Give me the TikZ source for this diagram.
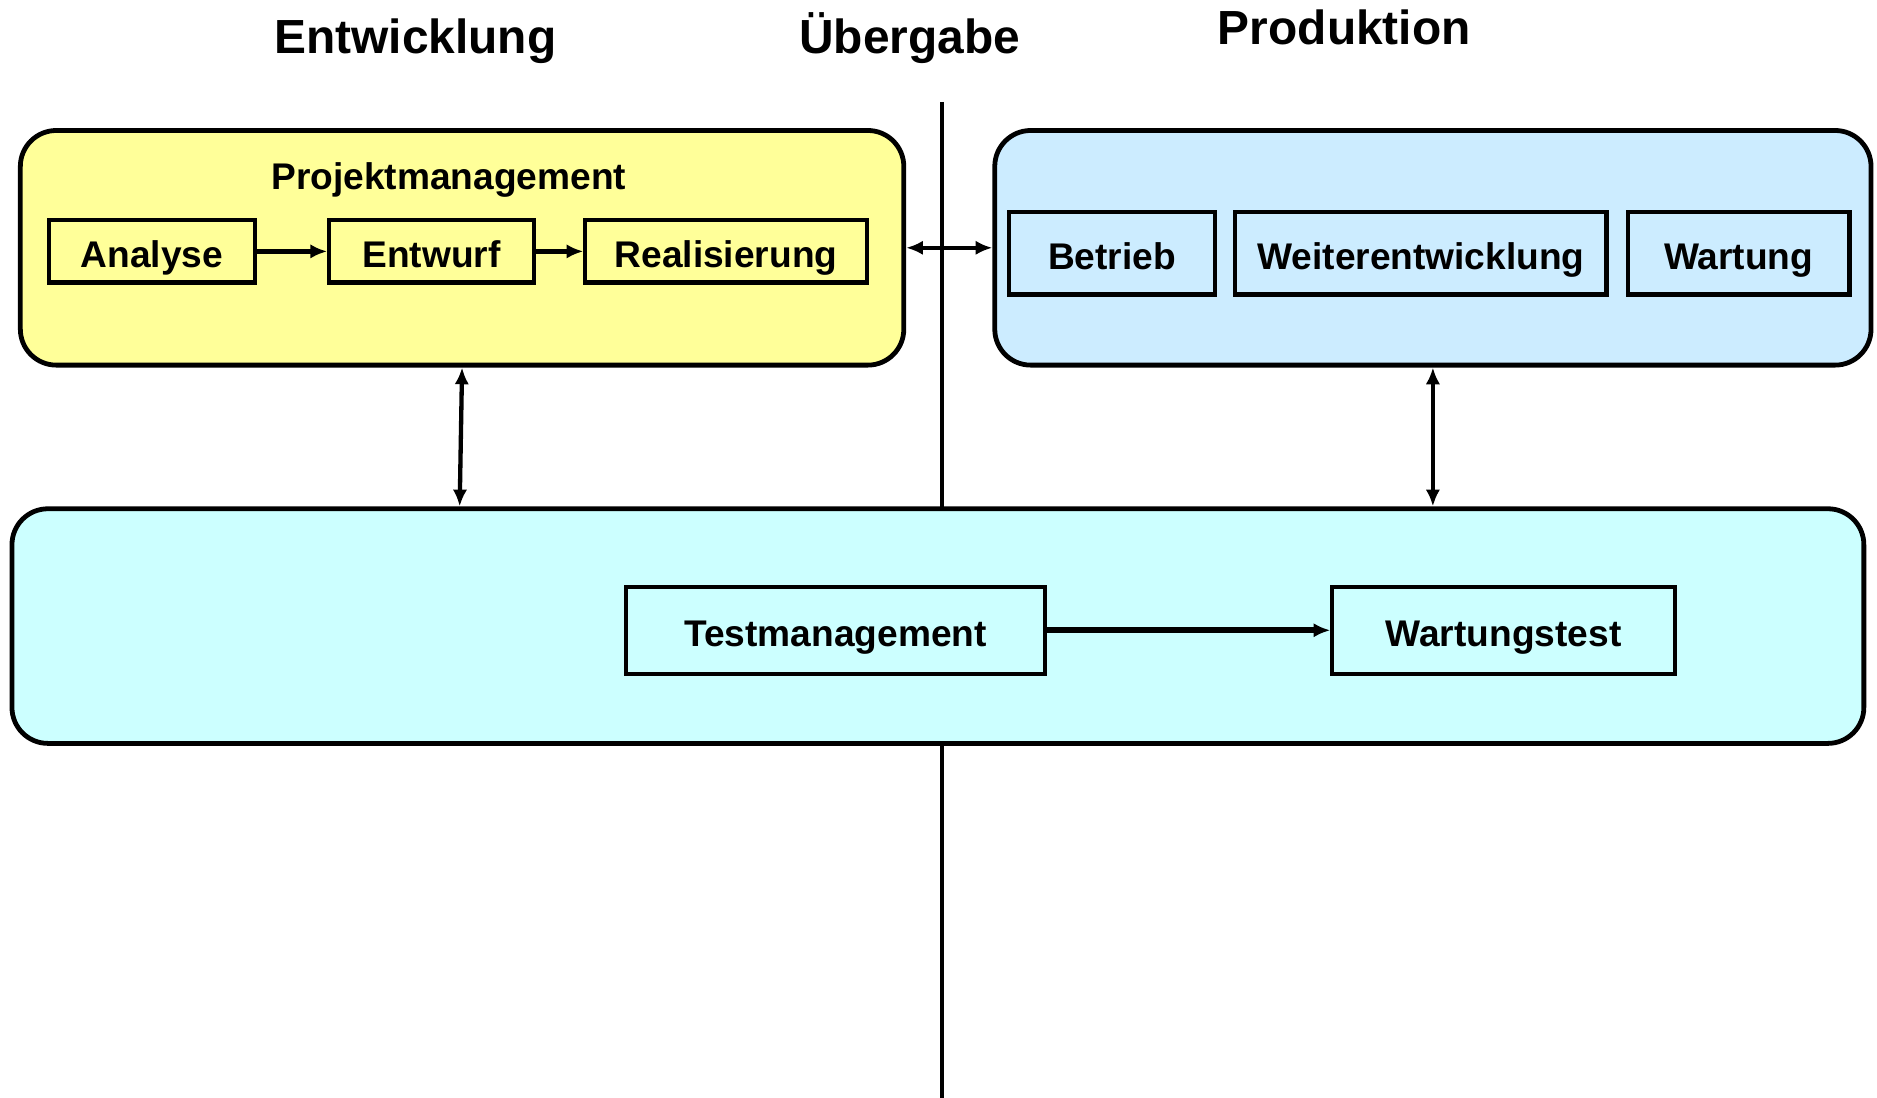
\documentclass[tikz,border=0pt]{standalone}
\usepackage{fontspec}
\setmainfont{Liberation Sans}
\usetikzlibrary{arrows.meta}
\definecolor{devfill}{HTML}{FFFF99}
\definecolor{prodfill}{HTML}{CCECFF}
\definecolor{testfill}{HTML}{CCFFFF}
\begin{document}
\begin{tikzpicture}[x=0.5pt,y=-0.5pt,
  font=\bfseries\fontsize{15.5}{18}\selectfont,
  area/.style={draw=black, line width=2pt, rounded corners=15pt, inner sep=0pt},
  stepbox/.style={draw=black, line width=1.7pt, inner sep=0pt, text height=13.5pt, text depth=0pt},
  title/.style={font=\bfseries\fontsize{20}{24}\selectfont, anchor=base},
  flow/.style={line width=2pt, -{Latex[length=7pt,width=6pt]}},
  link/.style={line width=1.8pt, {Latex[length=7pt,width=6pt]}-{Latex[length=7pt,width=6pt]}}]
\useasboundingbox (0,0) rectangle (1568,917);

% column headings
\node[title] (hdev) at (347,45) {Entwicklung};
\node[title] (hhand) at (760,45) {Übergabe};
\node[title] (hprod) at (1123,37) {Produktion};

% hand-over divider
\coordinate (ltop) at (787,85);
\coordinate (lbot) at (787,917);
\draw[line width=1.8pt] (ltop) -- (lbot);

% development area
\node[area, fill=devfill, minimum width=369pt, minimum height=98pt] (dev) at (386,207) {};
\node[anchor=base] (pm) at (375,158) {Projektmanagement};
\node[stepbox, minimum width=86pt, minimum height=26pt] (analyse) at (127,210) {Analyse};
\node[stepbox, minimum width=85.5pt, minimum height=26pt] (entwurf) at (360.5,210) {Entwurf};
\node[stepbox, minimum width=117.5pt, minimum height=26pt] (real) at (606.5,210) {Realisierung};

% production area
\node[area, fill=prodfill, minimum width=366pt, minimum height=98pt] (prod) at (1197,207) {};
\node[stepbox, minimum width=86pt, minimum height=34.5pt] (betrieb) at (929,211.5) {Betrieb};
\node[stepbox, minimum width=155pt, minimum height=34.5pt] (weiter) at (1187,211.5) {Weiterentwicklung};
\node[stepbox, minimum width=92.5pt, minimum height=34.5pt] (wartung) at (1452.5,211.5) {Wartung};

% test area
\node[area, fill=testfill, minimum width=773.5pt, minimum height=98pt] (test) at (783.5,523) {};
\node[stepbox, minimum width=175pt, minimum height=36.5pt] (tm) at (698,526.5) {Testmanagement};
\node[stepbox, minimum width=143pt, minimum height=36.5pt] (wt) at (1256,526.5) {Wartungstest};

% connectors
\draw[flow] (analyse) -- (entwurf);
\draw[flow] (entwurf) -- (real);
\draw[flow, line width=2.4pt] (tm) -- (wt);
\draw[link] (dev.east) -- (prod.west);
\draw[link] (dev.south) -- ([xshift=-1pt]dev.south |- test.north);
\draw[link] (prod.south) -- (prod.south |- test.north);
\end{tikzpicture}
\end{document}
